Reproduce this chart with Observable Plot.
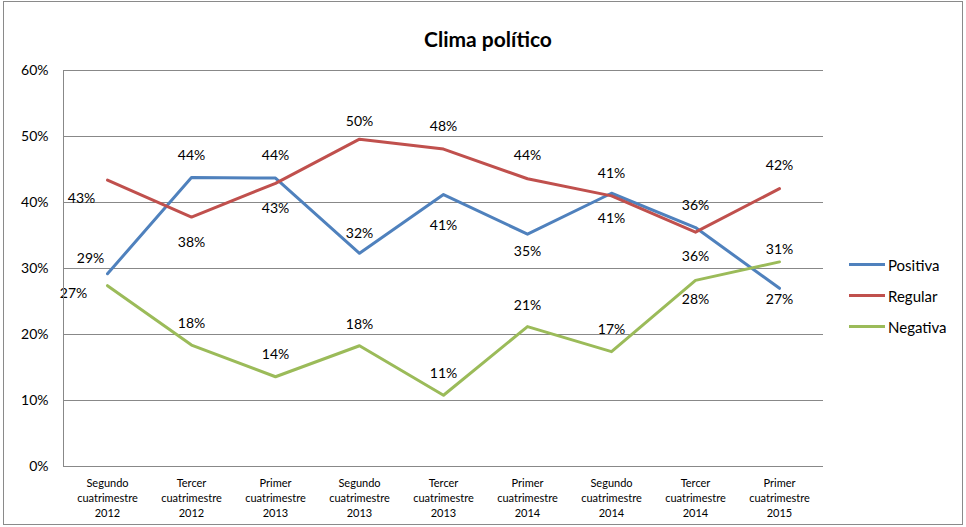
<!DOCTYPE html>
<html><head><meta charset="utf-8">
<script src="https://cdn.jsdelivr.net/npm/d3@7"></script>
<script src="https://cdn.jsdelivr.net/npm/@observablehq/plot@0.6"></script>
<style>
body{margin:0;background:#fff;font-family:Lato,"Open Sans",sans-serif;}
#wrap{position:relative;width:966px;height:527px;overflow:hidden;}
#frame{position:absolute;left:3px;top:1px;width:960px;height:524px;border:1px solid #8a8a8a;box-sizing:border-box;pointer-events:none;}
#title{position:absolute;left:0;width:976px;top:26px;text-align:center;font-weight:bold;font-size:21px;color:#000;}
#chart{position:absolute;left:0;top:0;}
#legend{position:absolute;left:849px;top:249px;font-size:15px;color:#000;}
#legend .it{display:flex;align-items:center;height:31px;}
#legend .sw{width:36px;height:3px;margin-right:3px;}
</style></head>
<body>
<div id="wrap">
  <div id="chart"></div>
  <div id="title">Clima político</div>
  <div id="legend"></div>
  <div id="frame"></div>
</div>
<script>
// ---- data ----
const categories = [
  "Segundo cuatrimestre 2012","Tercer cuatrimestre 2012","Primer cuatrimestre 2013",
  "Segundo cuatrimestre 2013","Tercer cuatrimestre 2013","Primer cuatrimestre 2014",
  "Segundo cuatrimestre 2014","Tercer cuatrimestre 2014","Primer cuatrimestre 2015"
];
const positiva = [29.2, 43.8, 43.7, 32.3, 41.2, 35.2, 41.4, 36.2, 27.0];
const regular  = [43.4, 37.8, 42.9, 49.6, 48.1, 43.6, 41.0, 35.5, 42.1];
const negativa = [27.4, 18.4, 13.6, 18.3, 10.8, 21.2, 17.4, 28.2, 31.0];
const seriesNames = ["Positiva", "Regular", "Negativa"];
const yTicks = [0, 10, 20, 30, 40, 50, 60];

// ---- layout (label placement offsets, px) ----
const colors = ["#4F81BD", "#C0504D", "#9BBB59"];
const labelDx = [
  [-17, 0, 0, 0, 0, 0, 0, 0, 0],
  [-26, 0, 0, 0, 0, 0, 0, 0, 0],
  [-34, 0, 0, 0, 0, 0, 0, 0, 0]
];
const labelDy = [
  [-15, -22, -23, -20, 31, 17, 25, -22, 11],
  [18, 25, 25, -18, -23, -23, -22, 24, -23],
  [8, -22, -22, -21, -22, -21, -22, 19, -12]
];

const values = [positiva, regular, negativa];
const rows = [];
seriesNames.forEach((s, si) => {
  values[si].forEach((v, i) => rows.push({cat: categories[i], v: v / 100, series: s, si, i}));
});

const fmtCat = c => { const p = c.split(" "); return p[0] + "\n" + p[1] + "\n" + p[2]; };

const marks = [
  Plot.ruleY(yTicks.map(t => t / 100), {stroke: "#888", strokeWidth: 1}),
  Plot.ruleX([0], {x: () => categories[0], stroke: "none"}),
  Plot.axisY({ticks: yTicks.map(t => t / 100), tickFormat: d3.format(".0%"), tickSize: 0, tickPadding: 15, fontSize: 14, label: null}),
  Plot.axisX({tickSize: 0, tickPadding: 10, fontSize: 11, lineHeight: 1.36, tickFormat: fmtCat, label: null}),
  Plot.line(rows, {x: "cat", y: "v", z: "series", stroke: d => colors[d.si], strokeWidth: 3, strokeLinejoin: "round"})
];
rows.forEach(r => {
  marks.push(Plot.text([r], {
    x: "cat", y: "v", text: d => Math.round(d.v * 100) + "%",
    dx: labelDx[r.si][r.i], dy: labelDy[r.si][r.i], fontSize: 14, fill: "#000"
  }));
});

const chart = Plot.plot({
  width: 966, height: 527,
  marginLeft: 63, marginRight: 143, marginTop: 70, marginBottom: 61,
  style: {fontFamily: "Lato, 'Open Sans', sans-serif", color: "#000", background: "transparent"},
  x: {type: "point", domain: categories, padding: 0.5},
  y: {domain: [0, 0.6]},
  marks
});
// left axis line
const svgNS = "http://www.w3.org/2000/svg";
document.getElementById("chart").appendChild(chart);
const ln = document.createElementNS(svgNS, "line");
ln.setAttribute("x1", 63.5); ln.setAttribute("x2", 63.5);
ln.setAttribute("y1", 70); ln.setAttribute("y2", 466);
ln.setAttribute("stroke", "#888");
chart.appendChild(ln);

const leg = document.getElementById("legend");
seriesNames.forEach((s, i) => {
  const it = document.createElement("div"); it.className = "it";
  const sw = document.createElement("div"); sw.className = "sw"; sw.style.background = colors[i];
  const tx = document.createElement("span"); tx.textContent = s;
  it.appendChild(sw); it.appendChild(tx); leg.appendChild(it);
});
</script>
</body></html>
